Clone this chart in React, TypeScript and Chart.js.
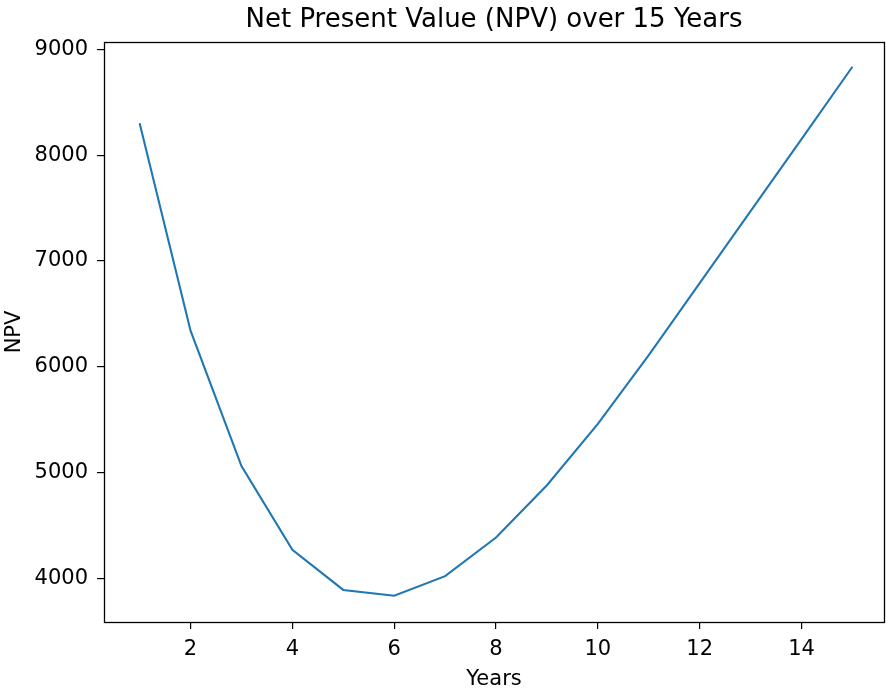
import React, { useEffect, useRef } from "react";
import { Chart, registerables } from "chart.js";

Chart.register(...registerables);

const TITLE = "Net Present Value (NPV) over 15 Years";
const X_LABEL = "Years";
const Y_LABEL = "NPV";
const years = [1, 2, 3, 4, 5, 6, 7, 8, 9, 10, 11, 12, 13, 14, 15];
const npv = [8300, 6340, 5060, 4270, 3890, 3835, 4020, 4385, 4880, 5460, 6110, 6790, 7470, 8150, 8835];
const xTicks = [2, 4, 6, 8, 10, 12, 14];
const yTicks = [4000, 5000, 6000, 7000, 8000, 9000];

const FONT = "DejaVu Sans";

export default function App() {
  const ref = useRef<HTMLCanvasElement | null>(null);

  useEffect(() => {
    if (!ref.current) return;
    const decor = {
      id: "decor",
      afterDraw(chart: any) {
        const { ctx, chartArea } = chart;
        const { left, right, top, bottom } = chartArea;
        ctx.save();
        ctx.strokeStyle = "#000";
        ctx.lineWidth = 1.3;
        ctx.strokeRect(Math.round(left) + 0.5, Math.round(top) + 0.5, Math.round(right - left), Math.round(bottom - top));
        ctx.fillStyle = "#000";
        ctx.textAlign = "center";
        ctx.textBaseline = "alphabetic";
        const cx = (left + right) / 2;
        ctx.font = `26px "${FONT}"`;
        ctx.fillText(TITLE, cx, 27);
        ctx.font = `21px "${FONT}"`;
        ctx.fillText(X_LABEL, cx, 685);
        ctx.translate(20, (top + bottom) / 2);
        ctx.rotate(-Math.PI / 2);
        ctx.fillText(Y_LABEL, 0, 0);
        ctx.restore();
      },
    };

    const chart = new Chart(ref.current, {
      type: "line",
      data: {
        datasets: [
          {
            data: years.map((x, i) => ({ x, y: npv[i] })),
            borderColor: "#1f77b4",
            borderWidth: 2.1,
            pointRadius: 0,
            fill: false,
            tension: 0,
          },
        ],
      },
      options: {
        animation: false,
        responsive: false,
        maintainAspectRatio: false,
        layout: { padding: { left: 0, right: 2, top: 42, bottom: 0 } },
        plugins: {
          legend: { display: false },
          title: { display: false },
          tooltip: { enabled: false },
        },
        scales: {
          x: {
            type: "linear",
            min: 0.3,
            max: 15.62,
            afterBuildTicks: (s: any) => {
              s.ticks = xTicks.map((v) => ({ value: v }));
            },
            afterFit: (s: any) => {
              s.height = 69;
            },
            grid: { drawOnChartArea: false, drawTicks: true, tickLength: 7, color: "#000", lineWidth: 1.2 },
            border: { display: false },
            ticks: {
              color: "#000",
              padding: 8,
              maxRotation: 0,
              autoSkip: false,
              font: { family: FONT, size: 21 },
              callback: (v: any) => String(v),
            },
          },
          y: {
            type: "linear",
            min: 3587,
            max: 9069,
            afterBuildTicks: (s: any) => {
              s.ticks = yTicks.map((v) => ({ value: v }));
            },
            afterFit: (s: any) => {
              s.width = 104;
            },
            grid: { drawOnChartArea: false, drawTicks: true, tickLength: 7, color: "#000", lineWidth: 1.2 },
            border: { display: false },
            ticks: {
              color: "#000",
              padding: 9,
              autoSkip: false,
              font: { family: FONT, size: 21 },
              callback: (v: any) => String(v),
            },
          },
        },
      },
      plugins: [decor],
    } as any);
    return () => chart.destroy();
  }, []);

  return (
    <div style={{ position: "absolute", left: 0, top: 0, width: 886, height: 691, background: "#fff" }}>
      <canvas ref={ref} width={886} height={691} style={{ display: "block", width: 886, height: 691 }} />
    </div>
  );
}
